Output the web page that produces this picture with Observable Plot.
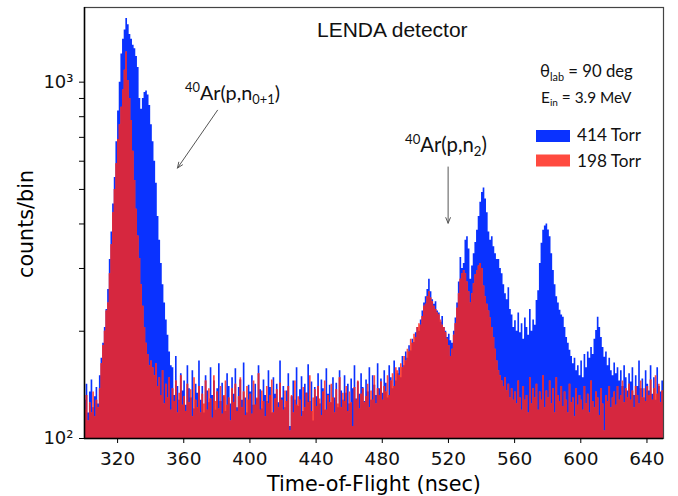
<!DOCTYPE html>
<html><head><meta charset="utf-8">
<script src="https://cdn.jsdelivr.net/npm/d3@7"></script>
<script src="https://cdn.jsdelivr.net/npm/@observablehq/plot@0.6"></script>
<style>body{margin:0;background:#fff}#chart svg{display:block}</style>
</head><body><div id="chart"></div>
<script>
// ---- data: 1-nsec bins starting at 300 nsec ----
const binStart = 300;
const counts414 = [
128,142,118,135,146,122,131,139,125,150,
168,185,205,230,262,318,380,455,540,680,
830,1000,1200,1320,1400,1510,1450,1360,1320,1270,
1240,1180,1100,900,840,900,935,945,920,860,
760,680,600,520,420,360,310,270,240,215,
195,175,160,158,132,170,140,128,152,136,
145,124,160,138,130,155,121,142,134,165,
128,140,118,150,136,126,158,132,145,120,
138,162,127,143,131,119,152,140,125,148,
133,157,122,139,146,128,163,130,118,141,
135,150,124,142,129,160,137,121,146,132,
127,155,139,118,148,133,142,126,165,130,
140,122,136,152,108,131,145,128,158,123,
137,149,119,142,134,161,127,144,112,139,
131,152,125,146,138,120,157,133,141,126,
148,130,143,122,155,136,128,150,134,142,
125,147,138,160,129,144,133,152,139,127,
146,135,158,128,150,141,132,162,138,147,
134,155,143,130,160,148,138,165,145,152,
158,148,170,160,175,168,182,176,190,186,
198,205,200,215,228,240,250,262,280,258,
245,238,242,228,225,212,220,205,200,192,
196,188,185,200,218,240,275,322,300,310,
360,368,340,280,305,330,355,384,420,460,
490,505,470,430,380,360,368,345,330,318,
318,300,290,270,255,245,265,230,222,205,
214,200,225,198,210,190,218,205,195,230,
200,215,208,244,260,310,353,384,395,400,
385,368,330,296,270,250,240,229,222,219,
205,192,185,177,170,162,168,155,160,150,
165,148,172,158,175,168,180,172,190,201,
219,205,192,180,169,175,160,168,155,150,
163,152,158,145,155,140,160,148,136,152,
144,158,132,150,140,165,138,147,130,155,
142,136,160,133,148,128,158,140,135,145
];
const counts198 = [
120,132,112,126,118,135,115,128,122,138,
162,182,200,228,240,290,350,430,500,590,
690,760,850,950,1080,1215,1010,900,780,640,
530,440,370,320,270,235,205,185,172,160,
165,158,150,162,140,148,132,155,125,142,
130,148,120,138,127,145,118,134,150,124,
131,119,142,126,137,115,148,128,122,140,
118,133,125,145,120,138,129,114,150,127,
135,121,140,117,132,145,124,130,112,138,
126,142,119,131,148,122,135,116,140,128,
133,117,145,124,130,152,120,136,127,115,
140,125,132,146,118,129,137,122,143,128,
120,136,127,140,105,132,118,145,124,131,
128,115,139,122,134,126,150,119,130,137,
123,140,129,116,135,145,120,132,126,142,
130,118,137,125,148,122,134,127,140,119,
135,126,108,139,128,145,121,133,138,126,
131,142,122,136,128,150,125,138,132,144,
128,140,135,150,132,145,152,140,158,155,
150,162,158,170,165,178,175,190,185,196,
192,205,210,208,220,235,238,250,258,248,
242,235,230,225,222,215,208,205,198,190,
182,170,178,195,210,232,255,280,290,296,
290,275,258,240,255,272,288,296,305,310,
300,268,250,238,228,218,205,192,178,165,
155,150,145,140,148,136,142,130,138,128,
135,125,145,130,120,140,128,132,118,148,
125,138,130,142,120,135,128,150,122,136,
130,145,125,138,118,148,132,127,140,123,
135,128,118,142,126,130,115,138,124,132,
128,120,140,125,133,118,145,127,122,135,
130,116,138,125,105,132,127,140,122,130,
135,124,140,128,132,145,126,138,130,142,
128,136,122,140,132,125,145,130,138,127,
140,132,146,128,138,150,133,142,126,136
];
const seriesNames = ["414 Torr", "198 Torr"];
const xTicks = [320,360,400,440,480,520,560,600,640];
const yTicks = [100,200,300,400,500,600,700,800,900,1000];
const yTickLabels = {100: "10²", 1000: "10³"};
const xDomain = [300, 650];
const yDomain = [100, 1620];
const arrows = [
  {x1: 380.4, y1: 834, x2: 356.2, y2: 574},
  {x1: 519.8, y1: 578, x2: 519.8, y2: 402}
];
const titleText = "LENDA detector";
const xLabel = "Time-of-Flight (nsec)";
const yLabel = "counts/bin";

// ---- build rows ----
function toRows(arr) {
  const rows = arr.map((v, i) => ({t: binStart + i, v}));
  rows.push({t: binStart + arr.length, v: arr[arr.length - 1]});
  return rows;
}
const rowsBlue = toRows(counts414);
const rowsRed = toRows(counts198);
const rowsOverlap = toRows(counts198.map((v, i) => Math.min(v, counts414[i])));

const BLUE = "#0a32ff", RED = "#ff4a3f", MIX = "#d6273f";

const svg = Plot.plot({
  width: 678, height: 496,
  marginLeft: 84, marginRight: 15, marginTop: 7, marginBottom: 58,
  style: {fontFamily: "DejaVu Sans", background: "#fff", color: "#111"},
  x: {domain: xDomain},
  y: {type: "log", domain: yDomain},
  marks: [
    Plot.area(rowsBlue, {x1: "t", y1: 100, y2: "v", curve: "step-after", fill: BLUE}),
    Plot.area(rowsRed, {x1: "t", y1: 100, y2: "v", curve: "step-after", fill: RED}),
    Plot.area(rowsOverlap, {x1: "t", y1: 100, y2: "v", curve: "step-after", fill: MIX}),
    Plot.frame({stroke: "#444", strokeWidth: 1.2}),
    Plot.ruleX([xDomain[0]], {stroke: "#000", strokeWidth: 1.5}),
    Plot.ruleY([yDomain[0]], {stroke: "#000", strokeWidth: 1.5}),
    Plot.axisX({ticks: xTicks, tickSize: 5, tickPadding: 8, label: null, fontSize: 18.5, stroke: "#000"}),
    Plot.axisY({ticks: yTicks, tickFormat: d => yTickLabels[d] || "", tickSize: 5, tickPadding: 6, label: null, fontSize: 18, stroke: "#000"}),
    Plot.arrow(arrows, {x1: "x1", y1: "y1", x2: "x2", y2: "y2", stroke: "#555", strokeWidth: 1, headLength: 9, headAngle: 45})
  ]
});
document.getElementById("chart").append(svg);

const root = d3.select(svg);
const g = root.append("g");

function rich(parts, {x, y, family, size, anchor = "start", target, transform, fill = "#111"}) {
  const t = g.append("text")
    .attr("x", x).attr("y", y)
    .attr("font-family", family).attr("font-size", size)
    .attr("text-anchor", anchor).attr("fill", fill);
  if (transform) t.attr("transform", transform);
  let shift = 0;
  for (const [s, kind] of parts) {
    const sp = t.append("tspan").text(s);
    if (kind === "sup") {
      sp.attr("font-size", "65%").attr("dy", ((-0.4 - shift) / 0.65).toFixed(3) + "em");
      shift = -0.4;
    } else if (kind === "sub") {
      sp.attr("font-size", "65%").attr("dy", ((0.22 - shift) / 0.65).toFixed(3) + "em");
      shift = 0.22;
    } else {
      if (shift !== 0) sp.attr("dy", (-shift).toFixed(3) + "em");
      shift = 0;
    }
  }
  if (target) {
    const w = t.node().getBBox().width;
    if (w > 0) t.attr("font-size", size * target / w);
  }
  return t;
}

const SANS = "Liberation Sans", CAL = "Lato";
rich([[titleText]], {x: 317, y: 37, family: SANS, size: 20, target: 151});
rich([["40", "sup"], ["Ar(p,n"], ["0+1", "sub"], [")"]], {x: 185, y: 100, family: CAL, size: 20, target: 95});
rich([["40", "sup"], ["Ar(p,n"], ["2", "sub"], [")"]], {x: 405, y: 152, family: CAL, size: 20, target: 82});
rich([["θ"], ["lab", "sub"], [" = 90 deg"]], {x: 540, y: 77, family: CAL, size: 17, target: 93});
rich([["E"], ["in", "sub"], [" = 3.9 MeV"]], {x: 541, y: 103, family: CAL, size: 17, target: 91});
rich([[seriesNames[0]]], {x: 577, y: 141, family: CAL, size: 17, target: 65});
rich([[seriesNames[1]]], {x: 577, y: 166.5, family: CAL, size: 17, target: 65});
g.append("rect").attr("x", 536).attr("y", 130).attr("width", 34).attr("height", 12).attr("fill", BLUE);
g.append("rect").attr("x", 536).attr("y", 154.5).attr("width", 34).attr("height", 12).attr("fill", RED);
rich([[xLabel]], {x: 374, y: 491, family: "DejaVu Sans", size: 20, anchor: "middle", target: 215, fill: "#000"});
rich([[yLabel]], {x: 0, y: 0, family: "DejaVu Sans", size: 20, anchor: "middle", target: 108, fill: "#000", transform: "translate(33,224) rotate(-90)"});
</script>
</body></html>
